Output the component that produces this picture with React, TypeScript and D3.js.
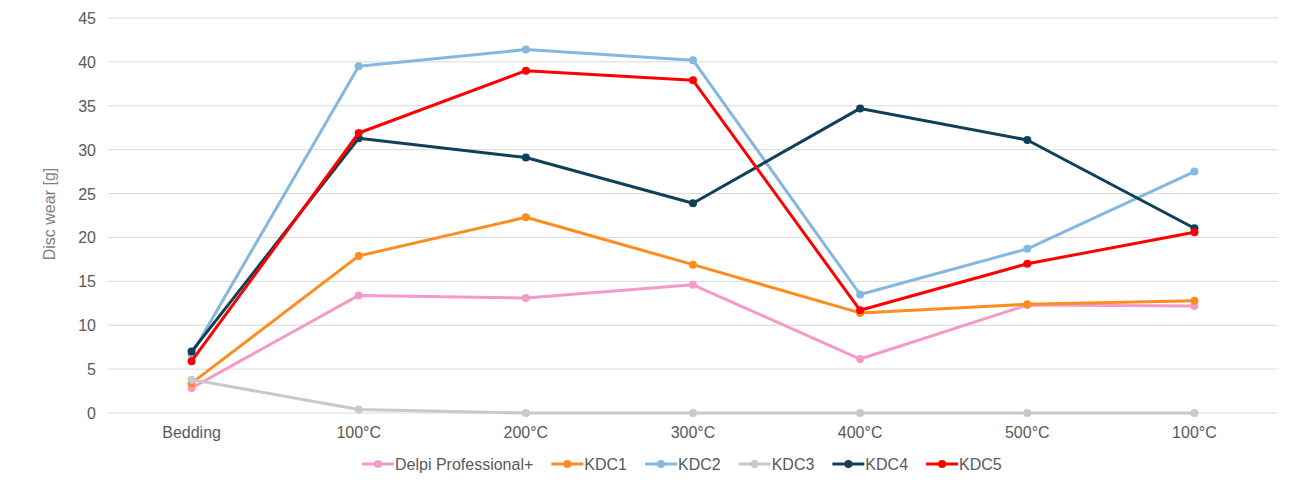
import React, { useEffect, useRef } from 'react';
import * as d3 from 'd3';

const categories = ['Bedding', '100°C', '200°C', '300°C', '400°C', '500°C', '100°C'];
const seriesNames = ['Delpi Professional+', 'KDC1', 'KDC2', 'KDC3', 'KDC4', 'KDC5'];
const seriesColors = ['#f49ac9', '#ff8c1f', '#85b8e0', '#c9c9c9', '#0e4159', '#ff0000'];

const delpi = [2.85, 13.4, 13.1, 14.6, 6.15, 12.3, 12.2];
const kdc1 = [3.4, 17.9, 22.3, 16.9, 11.4, 12.4, 12.8];
const kdc2 = [6.7, 39.5, 41.4, 40.2, 13.5, 18.7, 27.5];
const kdc3 = [3.8, 0.4, 0, 0, 0, 0, 0];
const kdc4 = [7.0, 31.3, 29.1, 23.9, 34.7, 31.1, 21.05];
const kdc5 = [5.9, 31.9, 39.0, 37.9, 11.7, 17.0, 20.6];

const seriesValues = [delpi, kdc1, kdc2, kdc3, kdc4, kdc5];
const yTicks = [0, 5, 10, 15, 20, 25, 30, 35, 40, 45];

const W = 1315;
const H = 493;
const margin = { top: 18, right: 37, bottom: 80, left: 108 };
const font = '"Liberation Sans", Arial, sans-serif';

export default function App() {
  const ref = useRef<SVGSVGElement>(null);

  useEffect(() => {
    document.body.style.margin = '0';
    const svg = d3.select(ref.current);
    svg.selectAll('*').remove();

    const innerW = W - margin.left - margin.right;
    const innerH = H - margin.top - margin.bottom;

    const x = d3.scaleBand<number>()
      .domain(categories.map((_, i) => i))
      .range([0, innerW]);
    const y = d3.scaleLinear().domain([0, 45]).range([innerH, 0]);
    const cx = (i: number) => (x(i) || 0) + x.bandwidth() / 2;

    const g = svg.append('g').attr('transform', `translate(${margin.left},${margin.top})`);

    // gridlines + y labels
    yTicks.forEach(t => {
      g.append('line')
        .attr('x1', 0).attr('x2', innerW)
        .attr('y1', y(t)).attr('y2', y(t))
        .attr('stroke', '#d9d9d9').attr('stroke-width', 1);
      g.append('text')
        .attr('x', -12).attr('y', y(t) + 6)
        .attr('text-anchor', 'end')
        .attr('font-family', font).attr('font-size', 16)
        .attr('fill', '#595959')
        .text(t);
    });

    // x labels
    categories.forEach((c, i) => {
      g.append('text')
        .attr('x', cx(i)).attr('y', innerH + 25)
        .attr('text-anchor', 'middle')
        .attr('font-family', font).attr('font-size', 16)
        .attr('fill', '#595959')
        .text(c);
    });

    // axis title
    svg.append('text')
      .attr('transform', `translate(55,214) rotate(-90)`)
      .attr('text-anchor', 'middle')
      .attr('font-family', font).attr('font-size', 16)
      .attr('fill', '#808080')
      .text('Disc wear [g]');

    const line = d3.line<number>()
      .x((_, i) => cx(i))
      .y(d => y(d));

    seriesValues.forEach((vals, s) => {
      g.append('path')
        .attr('d', line(vals) || '')
        .attr('fill', 'none')
        .attr('stroke', seriesColors[s])
        .attr('stroke-width', 3)
        .attr('stroke-linejoin', 'round');
      vals.forEach((v, i) => {
        g.append('circle')
          .attr('cx', cx(i)).attr('cy', y(v)).attr('r', 4)
          .attr('fill', seriesColors[s]);
      });
    });

    // legend
    const lg = svg.append('g').attr('transform', `translate(0,464)`);
    let px = 362;
    seriesNames.forEach((name, s) => {
      const it = lg.append('g').attr('transform', `translate(${px},0)`);
      it.append('line')
        .attr('x1', 0).attr('x2', 32).attr('y1', 0).attr('y2', 0)
        .attr('stroke', seriesColors[s]).attr('stroke-width', 3);
      it.append('circle').attr('cx', 16).attr('cy', 0).attr('r', 4).attr('fill', seriesColors[s]);
      const txt = it.append('text')
        .attr('x', 33).attr('y', 6)
        .attr('font-family', font).attr('font-size', 16)
        .attr('fill', '#595959')
        .text(name);
      const tw = (txt.node() as SVGTextElement).getComputedTextLength();
      px += 33 + tw + 18;
    });
  }, []);

  return <svg ref={ref} width={W} height={H} style={{ display: 'block', background: '#fff' }} />;
}
